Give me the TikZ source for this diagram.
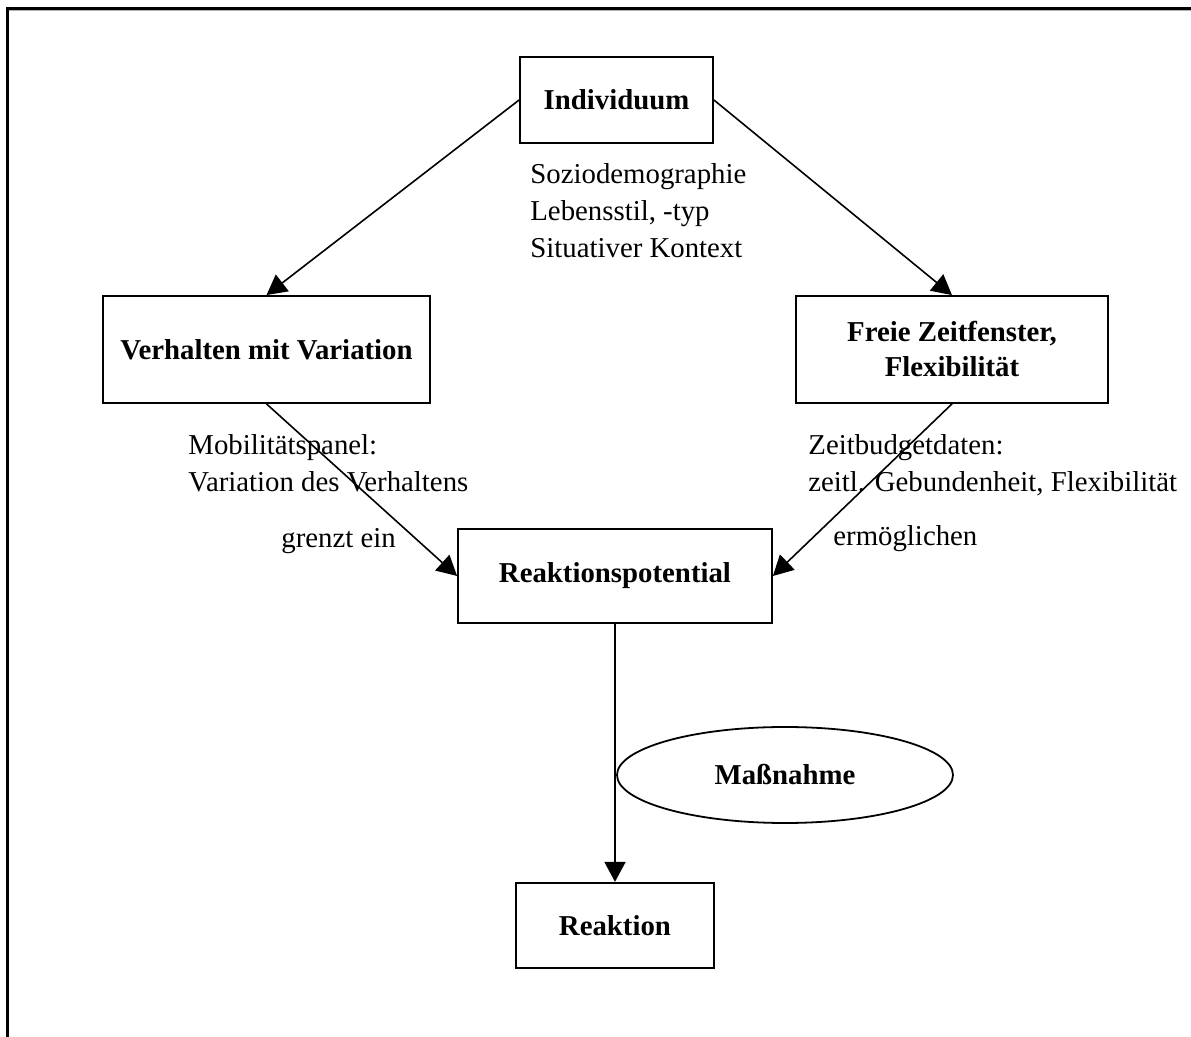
\documentclass[tikz,border=0pt]{standalone}
\usepackage{fontspec}
\setmainfont{Liberation Serif}
\usetikzlibrary{positioning,shapes.geometric,arrows.meta}

\begin{document}
\begin{tikzpicture}[x=0.5pt,y=-0.5pt,
    >={Triangle[length=10pt,width=10.5pt]},
    every node/.style={font=\fontsize{14.4}{18.5}\selectfont},
    kasten/.style={draw,rectangle,line width=0.9pt,align=center,font=\fontsize{14.4}{17.5}\selectfont\bfseries},
    notiz/.style={anchor=west,inner sep=0pt,align=left},
    pfeil/.style={->,line width=0.8pt}]
    \useasboundingbox (0,0) rectangle (1191,1037);
    % Rahmen
    \draw[gray!60,line width=0.6pt] (9,10.8) -- (1191,10.8);
    \draw[line width=1.6pt] (7.5,1037) -- (7.5,8.5) -- (1191,8.5);
    % Kaesten
    \node[kasten, minimum width=96.5pt, minimum height=43pt] (individuum) at (616.5,100) {Individuum};
    \node[kasten, minimum width=163.5pt, minimum height=53.5pt] (verhalten) at (266.5,349.5) {Verhalten mit Variation};
    \node[kasten, minimum width=156pt, minimum height=53.5pt] (zeitfenster) at (952,349.5) {Freie Zeitfenster,\\Flexibilität};
    \node[kasten, minimum width=157pt, minimum height=47pt] (reakpot) at (615,576) {Reaktionspotential};
    \node[kasten, minimum width=99pt, minimum height=42.5pt, below=129pt of reakpot] (reaktion) {Reaktion};
    \node[draw, ellipse, line width=0.9pt, minimum width=168pt, minimum height=48pt, font=\fontsize{14.4}{17.5}\selectfont\bfseries] (massnahme) at (785,775) {Maßnahme};
    % Beschriftungen
    \node[notiz] (sozio) at (530,211) {Soziodemographie\\Lebensstil, -typ\\Situativer Kontext};
    \node[notiz] (mobilitaet) at (188,463) {Mobilitätspanel:\\Variation des Verhaltens};
    \node[notiz] (grenzt) at (281,541) {grenzt ein};
    \node[notiz] (zeitbudget) at (808,465) {Zeitbudgetdaten:\\zeitl. Gebundenheit, Flexibilität};
    \node[notiz] (ermoeglichen) at (833,539) {ermöglichen};
    % Pfeile
    \draw[pfeil] (individuum.west) -- (verhalten.north);
    \draw[pfeil] (individuum.east) -- (zeitfenster.north);
    \draw[pfeil] (verhalten.south) -- (reakpot.west);
    \draw[pfeil] (zeitfenster.south) -- (reakpot.east);
    \draw[pfeil] (reakpot.south) -- (reaktion.north);
\end{tikzpicture}
\end{document}
